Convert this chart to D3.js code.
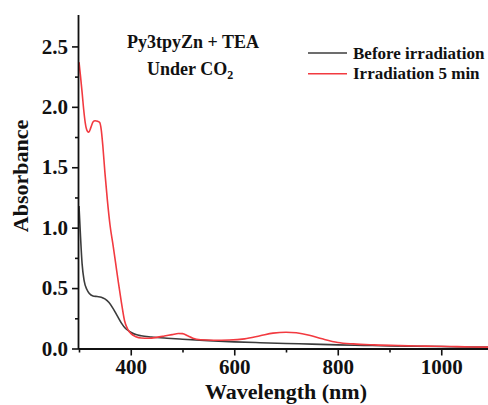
<!DOCTYPE html>
<html>
<head>
<meta charset="utf-8">
<script src="https://cdn.jsdelivr.net/npm/d3@7"></script>
<style>
  html, body { margin: 0; padding: 0; background: #fff; }
  svg { display: block; }
  text { font-family: "Liberation Serif", "Times New Roman", serif; font-weight: bold; fill: #111; }
</style>
</head>
<body>
<svg id="chart" width="488" height="405"></svg>
<script>
// UV-vis absorption spectra of Py3tpyZn + TEA under CO2
const wavelengthBefore = [300, 303, 306, 310, 315, 320, 327, 335, 343, 350, 358, 366, 374, 382, 390, 400, 410, 420, 440, 470, 500, 550, 600, 650, 700, 750, 800, 850, 900, 950, 1000, 1050, 1100];
const absorbanceBefore = [1.18, 0.92, 0.70, 0.56, 0.49, 0.455, 0.435, 0.43, 0.425, 0.41, 0.38, 0.33, 0.27, 0.21, 0.165, 0.135, 0.115, 0.105, 0.095, 0.085, 0.077, 0.065, 0.055, 0.048, 0.042, 0.036, 0.030, 0.026, 0.022, 0.019, 0.016, 0.013, 0.011];

const wavelengthIrr = [300, 303, 306, 309, 312, 316, 319, 323, 327, 331, 336, 340, 343, 346, 350, 355, 360, 366, 371, 376, 382, 388, 394, 400, 410, 420, 435, 450, 465, 480, 492, 500, 510, 520, 535, 560, 590, 620, 650, 675, 700, 720, 745, 770, 800, 830, 870, 920, 970, 1020, 1060, 1100];
const absorbanceIrr = [2.37, 2.25, 2.12, 1.98, 1.87, 1.80, 1.79, 1.83, 1.875, 1.885, 1.88, 1.87, 1.81, 1.68, 1.46, 1.22, 1.02, 0.85, 0.70, 0.55, 0.38, 0.23, 0.16, 0.125, 0.098, 0.087, 0.085, 0.092, 0.103, 0.115, 0.124, 0.123, 0.105, 0.085, 0.072, 0.068, 0.070, 0.080, 0.105, 0.127, 0.135, 0.130, 0.110, 0.080, 0.050, 0.038, 0.030, 0.024, 0.020, 0.016, 0.013, 0.011];

const seriesNames = ["Before irradiation", "Irradiation 5 min"];
const seriesColors = ["#3c3c3c", "#f23a40"];

const xMajorTicks = [400, 600, 800, 1000];
const xMinorTicks = [300, 500, 700, 900];
const yMajorTicks = [0.0, 0.5, 1.0, 1.5, 2.0, 2.5];
const yMinorTicks = [0.25, 0.75, 1.25, 1.75, 2.25];

const svg = d3.select("#chart");
const plotLeft = 79, plotBottom = 348.5, plotTop = 15, plotRight = 493;

const x = d3.scaleLinear().domain([300, 1100]).range([plotLeft, plotRight]);
const y = d3.scaleLinear().domain([0, 2.76]).range([plotBottom, plotTop]);

// spectra
const line = d3.line()
  .x(d => x(d[0]))
  .y(d => y(d[1]))
  .curve(d3.curveMonotoneX);

const series = [
  d3.zip(wavelengthBefore, absorbanceBefore),
  d3.zip(wavelengthIrr, absorbanceIrr)
];

svg.append("defs").append("clipPath").attr("id", "plotClip")
  .append("rect").attr("x", plotLeft).attr("y", plotTop)
  .attr("width", plotRight - plotLeft).attr("height", plotBottom - plotTop);

const plot = svg.append("g").attr("clip-path", "url(#plotClip)");
series.forEach((s, i) => {
  plot.append("path")
    .datum(s)
    .attr("fill", "none")
    .attr("stroke", seriesColors[i])
    .attr("stroke-width", 1.6)
    .attr("stroke-linejoin", "round")
    .attr("d", line);
});

// axes
const axisStyle = g => {
  g.select(".domain").attr("stroke", "#111").attr("stroke-width", 1.8);
  g.selectAll(".tick line").attr("stroke", "#111").attr("stroke-width", 1.6);
  g.selectAll(".tick text").style("font-size", "21px").style("font-family", "'Liberation Serif', 'Times New Roman', serif").style("font-weight", "bold").attr("fill", "#111");
};

const xAxis = svg.append("g").attr("transform", `translate(0,${plotBottom})`)
  .call(d3.axisBottom(x).tickValues(xMajorTicks).tickFormat(d3.format("d")).tickSize(7).tickSizeOuter(0).tickPadding(4))
  .call(axisStyle);
xAxis.select(".domain").attr("d", `M${plotLeft},0.5H488`);

svg.append("g").attr("transform", `translate(0,${plotBottom})`)
  .call(d3.axisBottom(x).tickValues(xMinorTicks).tickFormat("").tickSize(4).tickSizeOuter(0))
  .call(g => g.select(".domain").remove())
  .call(g => g.selectAll(".tick line").attr("stroke", "#111").attr("stroke-width", 1.6));

const yAxis = svg.append("g").attr("transform", `translate(${plotLeft},0)`)
  .call(d3.axisLeft(y).tickValues(yMajorTicks).tickFormat(d3.format(".1f")).tickSize(7).tickSizeOuter(0).tickPadding(4))
  .call(axisStyle);
yAxis.select(".domain").attr("d", `M-0.5,${plotTop}V${plotBottom + 0.5}`);

svg.append("g").attr("transform", `translate(${plotLeft},0)`)
  .call(d3.axisLeft(y).tickValues(yMinorTicks).tickFormat("").tickSize(4).tickSizeOuter(0))
  .call(g => g.select(".domain").remove())
  .call(g => g.selectAll(".tick line").attr("stroke", "#111").attr("stroke-width", 1.6));

// axis titles
svg.append("text")
  .attr("x", 286).attr("y", 399)
  .attr("text-anchor", "middle")
  .style("font-size", "22px")
  .text("Wavelength (nm)");

svg.append("text")
  .attr("transform", "translate(28,176) rotate(-90)")
  .attr("text-anchor", "middle")
  .style("font-size", "22px")
  .text("Absorbance");

// sample annotation
svg.append("text")
  .attr("x", 127).attr("y", 48)
  .style("font-size", "18px")
  .text("Py3tpyZn + TEA");

const under = svg.append("text")
  .attr("x", 147).attr("y", 75)
  .style("font-size", "18px");
under.append("tspan").text("Under CO");
under.append("tspan").attr("dy", 4).style("font-size", "12px").text("2");

// legend
const legend = svg.append("g");
seriesNames.forEach((name, i) => {
  const ly = 53 + i * 20.7;
  legend.append("line")
    .attr("x1", 308).attr("x2", 347)
    .attr("y1", ly).attr("y2", ly)
    .attr("stroke", seriesColors[i])
    .attr("stroke-width", 1.6);
  legend.append("text")
    .attr("x", 353).attr("y", ly + 5.5)
    .style("font-size", "17px")
    .text(name);
});
</script>
</body>
</html>
